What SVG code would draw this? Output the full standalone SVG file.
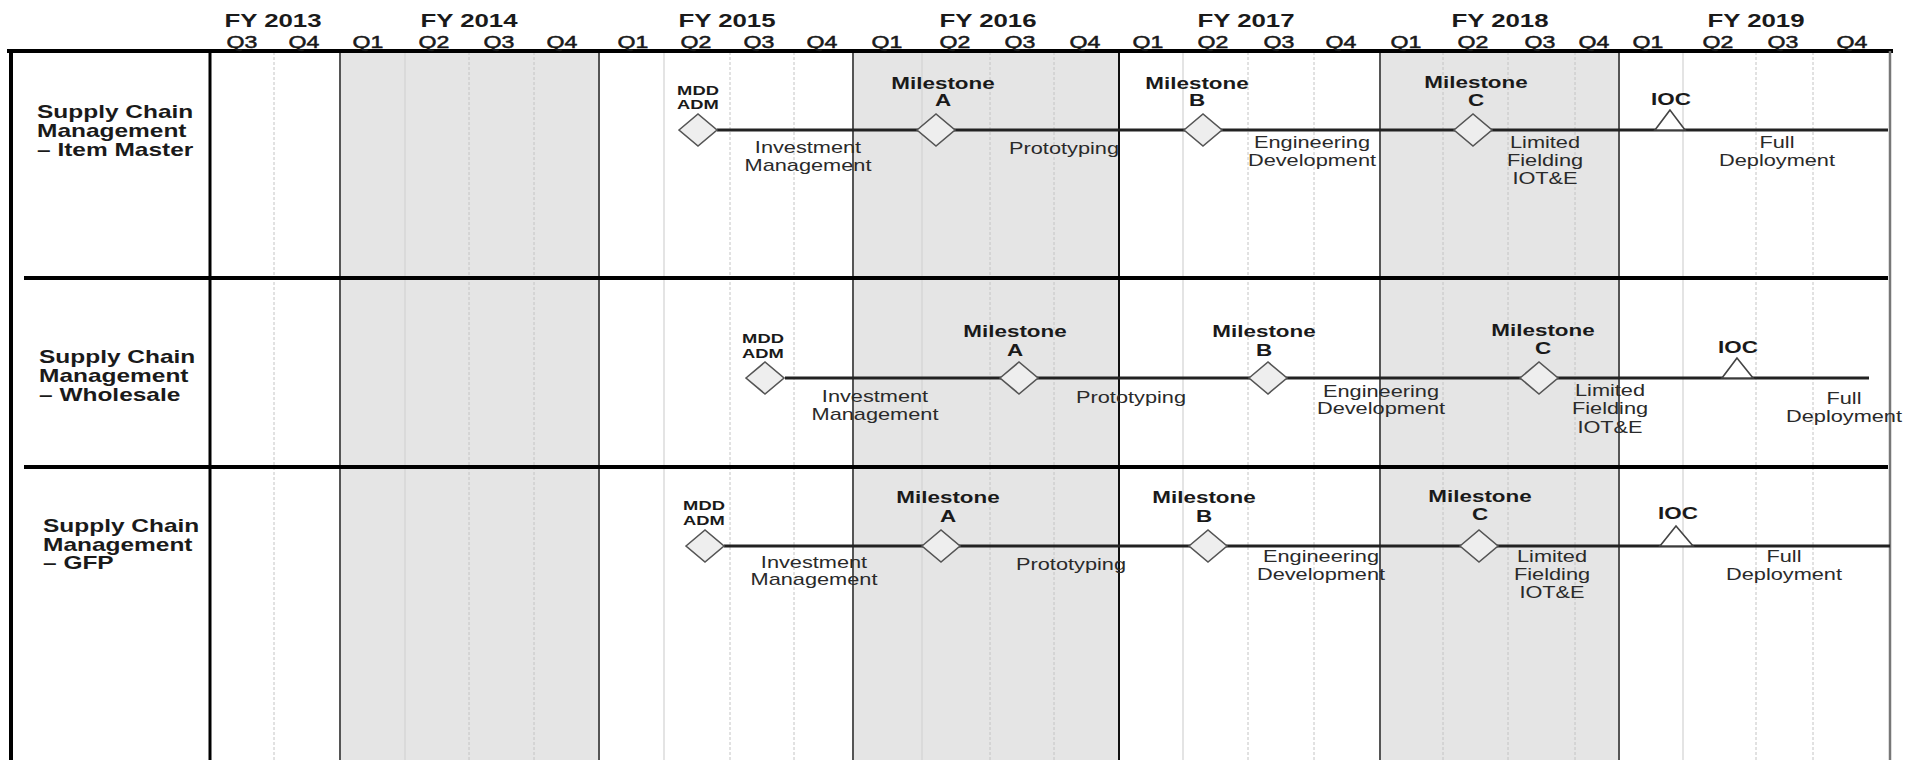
<svg xmlns="http://www.w3.org/2000/svg" width="1914" height="760" viewBox="0 0 1914 760">
<defs>
<style>
text{font-family:"Liberation Sans",Arial,sans-serif;fill:#1a1a1a}
.fy{font-size:19px;font-weight:bold;text-anchor:middle}
.q{font-size:17px;text-anchor:middle;stroke:#1a1a1a;stroke-width:0.5}
.lab{font-size:18px;font-weight:bold}
.ms{font-size:16.5px;font-weight:bold;text-anchor:middle}
.mdd{font-size:13.5px;font-weight:bold;text-anchor:middle}
.ph{font-size:16px;text-anchor:middle;fill:#2a2a2a}
.shade{fill:#e5e5e5}
.fyl{stroke:#555;stroke-width:2}
.ql{stroke:#c4c4c4;stroke-width:1;stroke-dasharray:3 2}
.qs{stroke:#d2d2d2;stroke-width:1.2}
.frame{stroke:#000;stroke-width:4}
.dia{fill:#eeeeee;stroke:#555;stroke-width:1.6}
.tri{fill:#fff;stroke:#444;stroke-width:1.6}
.tl{stroke:#222;stroke-width:3}
</style>
</defs>
<rect width="1914" height="760" fill="#fff"/>
<g id="shading">
<rect class="shade" x="340" y="52" width="259" height="708"/>
<rect class="shade" x="853" y="52" width="266" height="708"/>
<rect class="shade" x="1380" y="52" width="239" height="708"/>
</g>
<g id="grid">
<line class="ql" x1="274" y1="52" x2="274" y2="760"/>
<line class="qs" x1="405" y1="52" x2="405" y2="760"/>
<line class="ql" x1="469" y1="52" x2="469" y2="760"/>
<line class="ql" x1="534" y1="52" x2="534" y2="760"/>
<line class="qs" x1="664" y1="52" x2="664" y2="760"/>
<line class="ql" x1="730" y1="52" x2="730" y2="760"/>
<line class="ql" x1="794" y1="52" x2="794" y2="760"/>
<line class="qs" x1="922" y1="52" x2="922" y2="760"/>
<line class="ql" x1="990" y1="52" x2="990" y2="760"/>
<line class="ql" x1="1054" y1="52" x2="1054" y2="760"/>
<line class="qs" x1="1183" y1="52" x2="1183" y2="760"/>
<line class="ql" x1="1248" y1="52" x2="1248" y2="760"/>
<line class="ql" x1="1314" y1="52" x2="1314" y2="760"/>
<line class="ql" x1="1443" y1="52" x2="1443" y2="760"/>
<line class="ql" x1="1508" y1="52" x2="1508" y2="760"/>
<line class="ql" x1="1575" y1="52" x2="1575" y2="760"/>
<line class="qs" x1="1683" y1="52" x2="1683" y2="760"/>
<line class="ql" x1="1756" y1="52" x2="1756" y2="760"/>
<line class="ql" x1="1813" y1="52" x2="1813" y2="760"/>
<line class="fyl" x1="340" y1="52" x2="340" y2="760"/>
<line class="fyl" x1="599" y1="52" x2="599" y2="760"/>
<line class="fyl" x1="853" y1="52" x2="853" y2="760"/>
<line stroke="#111" stroke-width="2" x1="1119" y1="52" x2="1119" y2="760"/>
<line class="fyl" x1="1380" y1="52" x2="1380" y2="760"/>
<line class="fyl" x1="1619" y1="52" x2="1619" y2="760"/>
</g>
<g id="frame">
<line class="frame" x1="7" y1="51" x2="1893" y2="51"/>
<line class="frame" x1="11" y1="51" x2="11" y2="760"/>
<line stroke="#000" stroke-width="3" x1="210" y1="51" x2="210" y2="760"/>
<line stroke="#777" stroke-width="2.5" x1="1890" y1="51" x2="1890" y2="760"/>
<line class="frame" x1="24" y1="278" x2="1888" y2="278"/>
<line class="frame" x1="24" y1="467" x2="1888" y2="467"/>
</g>
<g id="header">
<text class="fy" transform="translate(273 27) scale(1.36 1)">FY 2013</text>
<text class="fy" transform="translate(469 27) scale(1.36 1)">FY 2014</text>
<text class="fy" transform="translate(727 27) scale(1.36 1)">FY 2015</text>
<text class="fy" transform="translate(988 27) scale(1.36 1)">FY 2016</text>
<text class="fy" transform="translate(1246 27) scale(1.36 1)">FY 2017</text>
<text class="fy" transform="translate(1500 27) scale(1.36 1)">FY 2018</text>
<text class="fy" transform="translate(1756 27) scale(1.36 1)">FY 2019</text>
<text class="q" transform="translate(242 48) scale(1.36 1)">Q3</text>
<text class="q" transform="translate(304 48) scale(1.36 1)">Q4</text>
<text class="q" transform="translate(368 48) scale(1.36 1)">Q1</text>
<text class="q" transform="translate(434 48) scale(1.36 1)">Q2</text>
<text class="q" transform="translate(499 48) scale(1.36 1)">Q3</text>
<text class="q" transform="translate(562 48) scale(1.36 1)">Q4</text>
<text class="q" transform="translate(633 48) scale(1.36 1)">Q1</text>
<text class="q" transform="translate(696 48) scale(1.36 1)">Q2</text>
<text class="q" transform="translate(759 48) scale(1.36 1)">Q3</text>
<text class="q" transform="translate(822 48) scale(1.36 1)">Q4</text>
<text class="q" transform="translate(887 48) scale(1.36 1)">Q1</text>
<text class="q" transform="translate(955 48) scale(1.36 1)">Q2</text>
<text class="q" transform="translate(1020 48) scale(1.36 1)">Q3</text>
<text class="q" transform="translate(1085 48) scale(1.36 1)">Q4</text>
<text class="q" transform="translate(1148 48) scale(1.36 1)">Q1</text>
<text class="q" transform="translate(1213 48) scale(1.36 1)">Q2</text>
<text class="q" transform="translate(1279 48) scale(1.36 1)">Q3</text>
<text class="q" transform="translate(1341 48) scale(1.36 1)">Q4</text>
<text class="q" transform="translate(1406 48) scale(1.36 1)">Q1</text>
<text class="q" transform="translate(1473 48) scale(1.36 1)">Q2</text>
<text class="q" transform="translate(1540 48) scale(1.36 1)">Q3</text>
<text class="q" transform="translate(1594 48) scale(1.36 1)">Q4</text>
<text class="q" transform="translate(1648 48) scale(1.36 1)">Q1</text>
<text class="q" transform="translate(1718 48) scale(1.36 1)">Q2</text>
<text class="q" transform="translate(1783 48) scale(1.36 1)">Q3</text>
<text class="q" transform="translate(1852 48) scale(1.36 1)">Q4</text>
</g>
<g id="connectors">
<line class="tl" x1="717" y1="130" x2="1888" y2="130"/>
<line class="tl" x1="785" y1="378" x2="1869" y2="378"/>
<line class="tl" x1="724" y1="546" x2="1890" y2="546"/>
</g>
<g id="row1-label"><text class="lab" transform="translate(37 118) scale(1.36 1)"><tspan x="0">Supply Chain</tspan><tspan x="0" dy="19">Management</tspan><tspan x="0" dy="19">– Item Master</tspan></text></g>
<g id="row1-mdd"><polygon class="dia" points="679,130 698,114 717,130 698,146"/><text class="mdd" transform="translate(698 95) scale(1.36 1)"><tspan x="0">MDD</tspan><tspan x="0" dy="14">ADM</tspan></text></g>
<g id="row1-msA"><polygon class="dia" points="917,130 936,114 955,130 936,146"/><text class="ms" transform="translate(943 89) scale(1.36 1)"><tspan x="0">Milestone</tspan><tspan x="0" dy="17">A</tspan></text></g>
<g id="row1-msB"><polygon class="dia" points="1184,130 1203,114 1222,130 1203,146"/><text class="ms" transform="translate(1197 89) scale(1.36 1)"><tspan x="0">Milestone</tspan><tspan x="0" dy="17">B</tspan></text></g>
<g id="row1-msC"><polygon class="dia" points="1454,130 1473,114 1492,130 1473,146"/><text class="ms" transform="translate(1476 88) scale(1.36 1)"><tspan x="0">Milestone</tspan><tspan x="0" dy="18">C</tspan></text></g>
<g id="row1-ioc"><polygon class="tri" points="1670,110 1655,130 1685,130"/><text class="ms" transform="translate(1671 105) scale(1.36 1)">IOC</text></g>
<g id="row1-phases">
<text class="ph" transform="translate(808 153) scale(1.36 1)"><tspan x="0">Investment</tspan><tspan x="0" dy="18">Management</tspan></text>
<text class="ph" transform="translate(1064 154) scale(1.36 1)">Prototyping</text>
<text class="ph" transform="translate(1312 148) scale(1.36 1)"><tspan x="0">Engineering</tspan><tspan x="0" dy="18">Development</tspan></text>
<text class="ph" transform="translate(1545 148) scale(1.36 1)"><tspan x="0">Limited</tspan><tspan x="0" dy="18">Fielding</tspan><tspan x="0" dy="18">IOT&amp;E</tspan></text>
<text class="ph" transform="translate(1777 148) scale(1.36 1)"><tspan x="0">Full</tspan><tspan x="0" dy="18">Deployment</tspan></text>
</g>
<g id="row2-label"><text class="lab" transform="translate(39 363) scale(1.36 1)"><tspan x="0">Supply Chain</tspan><tspan x="0" dy="19">Management</tspan><tspan x="0" dy="19">– Wholesale</tspan></text></g>
<g id="row2-mdd"><polygon class="dia" points="746,378 765,362 784,378 765,394"/><text class="mdd" transform="translate(763 343) scale(1.36 1)"><tspan x="0">MDD</tspan><tspan x="0" dy="15">ADM</tspan></text></g>
<g id="row2-msA"><polygon class="dia" points="1000,378 1019,362 1038,378 1019,394"/><text class="ms" transform="translate(1015 337) scale(1.36 1)"><tspan x="0">Milestone</tspan><tspan x="0" dy="19">A</tspan></text></g>
<g id="row2-msB"><polygon class="dia" points="1249,378 1268,362 1287,378 1268,394"/><text class="ms" transform="translate(1264 337) scale(1.36 1)"><tspan x="0">Milestone</tspan><tspan x="0" dy="19">B</tspan></text></g>
<g id="row2-msC"><polygon class="dia" points="1520,378 1539,362 1558,378 1539,394"/><text class="ms" transform="translate(1543 336) scale(1.36 1)"><tspan x="0">Milestone</tspan><tspan x="0" dy="18">C</tspan></text></g>
<g id="row2-ioc"><polygon class="tri" points="1737,358 1722,378 1753,378"/><text class="ms" transform="translate(1738 353) scale(1.36 1)">IOC</text></g>
<g id="row2-phases">
<text class="ph" transform="translate(875 402) scale(1.36 1)"><tspan x="0">Investment</tspan><tspan x="0" dy="18">Management</tspan></text>
<text class="ph" transform="translate(1131 403) scale(1.36 1)">Prototyping</text>
<text class="ph" transform="translate(1381 397) scale(1.36 1)"><tspan x="0">Engineering</tspan><tspan x="0" dy="17">Development</tspan></text>
<text class="ph" transform="translate(1610 396) scale(1.36 1)"><tspan x="0">Limited</tspan><tspan x="0" dy="18">Fielding</tspan><tspan x="0" dy="19">IOT&amp;E</tspan></text>
<text class="ph" transform="translate(1844 404) scale(1.36 1)"><tspan x="0">Full</tspan><tspan x="0" dy="18">Deployment</tspan></text>
</g>
<g id="row3-label"><text class="lab" transform="translate(43 532) scale(1.36 1)"><tspan x="0">Supply Chain</tspan><tspan x="0" dy="19">Management</tspan><tspan x="0" dy="18">– GFP</tspan></text></g>
<g id="row3-mdd"><polygon class="dia" points="686,546 705,530 724,546 705,562"/><text class="mdd" transform="translate(704 510) scale(1.36 1)"><tspan x="0">MDD</tspan><tspan x="0" dy="15">ADM</tspan></text></g>
<g id="row3-msA"><polygon class="dia" points="922,546 941,530 960,546 941,562"/><text class="ms" transform="translate(948 503) scale(1.36 1)"><tspan x="0">Milestone</tspan><tspan x="0" dy="19">A</tspan></text></g>
<g id="row3-msB"><polygon class="dia" points="1189,546 1208,530 1227,546 1208,562"/><text class="ms" transform="translate(1204 503) scale(1.36 1)"><tspan x="0">Milestone</tspan><tspan x="0" dy="19">B</tspan></text></g>
<g id="row3-msC"><polygon class="dia" points="1460,546 1479,530 1498,546 1479,562"/><text class="ms" transform="translate(1480 502) scale(1.36 1)"><tspan x="0">Milestone</tspan><tspan x="0" dy="18">C</tspan></text></g>
<g id="row3-ioc"><polygon class="tri" points="1676,526 1660,546 1693,546"/><text class="ms" transform="translate(1678 519) scale(1.36 1)">IOC</text></g>
<g id="row3-phases">
<text class="ph" transform="translate(814 568) scale(1.36 1)"><tspan x="0">Investment</tspan><tspan x="0" dy="17">Management</tspan></text>
<text class="ph" transform="translate(1071 570) scale(1.36 1)">Prototyping</text>
<text class="ph" transform="translate(1321 562) scale(1.36 1)"><tspan x="0">Engineering</tspan><tspan x="0" dy="18">Development</tspan></text>
<text class="ph" transform="translate(1552 562) scale(1.36 1)"><tspan x="0">Limited</tspan><tspan x="0" dy="18">Fielding</tspan><tspan x="0" dy="18">IOT&amp;E</tspan></text>
<text class="ph" transform="translate(1784 562) scale(1.36 1)"><tspan x="0">Full</tspan><tspan x="0" dy="18">Deployment</tspan></text>
</g>
</svg>
